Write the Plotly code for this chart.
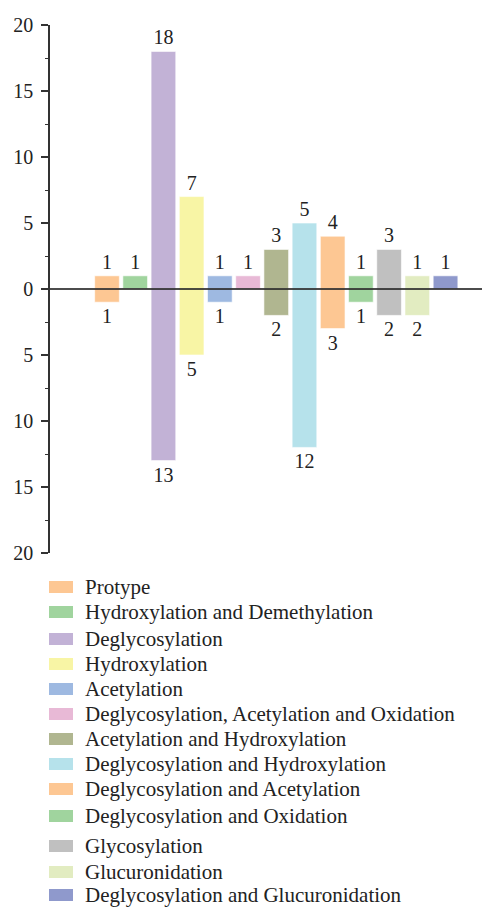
import plotly.graph_objects as go

categories = ["Protype", "Hydroxylation and Demethylation", "Deglycosylation", "Hydroxylation",
              "Acetylation", "Deglycosylation, Acetylation and Oxidation", "Acetylation and Hydroxylation",
              "Deglycosylation and Hydroxylation", "Deglycosylation and Acetylation",
              "Deglycosylation and Oxidation", "Glycosylation", "Glucuronidation",
              "Deglycosylation and Glucuronidation"]
positive = [1, 1, 18, 7, 1, 1, 3, 5, 4, 1, 3, 1, 1]
negative = [1, 0, 13, 5, 1, 0, 2, 12, 3, 1, 2, 2, 0]
colors = ["#FDC793", "#A0D49E", "#C2B2D6", "#F8F5A5", "#9EB9E1", "#E8B9D6", "#B0B690",
          "#B6E2EB", "#FDC793", "#A0D49E", "#C0C0C0", "#E2ECC1", "#8F99CC"]
tick_vals = [-20, -15, -10, -5, 0, 5, 10, 15, 20]
tick_text = ["20", "15", "10", "5", "0", "5", "10", "15", "20"]

FONT = "Liberation Serif"
FS = 20
OFF = 8  # page body margin
W, H = 490 - OFF, 908 - OFF
ML, MR, MT, MB = 50 - OFF, 1, 25 - OFF, 908 - 553
PW, PH = W - ML - MR, H - MT - MB

fig = go.Figure()
xs = list(range(len(categories)))
fig.add_trace(go.Bar(
    x=xs, y=positive, width=0.875,
    marker=dict(color=colors, line=dict(color="rgba(255,255,255,0.6)", width=1)),
    text=[str(v) for v in positive], textposition="outside",
    textfont=dict(family=FONT, size=FS, color="#222"),
    cliponaxis=False, showlegend=False, hoverinfo="skip"))
fig.add_trace(go.Bar(
    x=xs, y=[-v for v in negative], width=0.875,
    marker=dict(color=colors, line=dict(color="rgba(255,255,255,0.6)", width=1)),
    text=[str(v) if v else "" for v in negative], textposition="outside",
    textfont=dict(family=FONT, size=FS, color="#222"),
    cliponaxis=False, showlegend=False, hoverinfo="skip"))

# manual legend (page pixel centres)
legend_y = [587, 612, 639, 664, 689, 714, 739, 764, 789, 816, 846, 872, 895]
shapes = []
annotations = []
for name, col, yc in zip(categories, colors, legend_y):
    yc = yc - OFF
    y0 = 1 - (yc - 6 - MT) / PH
    y1 = 1 - (yc + 6 - MT) / PH
    x0 = (49 - OFF - ML) / PW
    x1 = (73 - OFF - ML) / PW
    shapes.append(dict(type="rect", xref="paper", yref="paper", x0=x0, x1=x1, y0=y0, y1=y1,
                       fillcolor=col, line=dict(width=0)))
    annotations.append(dict(xref="paper", yref="paper", x=(83 - OFF - ML) / PW,
                            y=1 - (yc - MT) / PH, text=name, showarrow=False,
                            xanchor="left", yanchor="middle",
                            font=dict(family=FONT, size=21, color="#222")))

# zero line drawn above the bars
shapes.append(dict(type="line", xref="paper", yref="y", x0=0, x1=1, y0=0, y1=0,
                   layer="above", line=dict(color="#111", width=1.3)))

cx0 = 107 - OFF
fig.update_layout(
    width=W, height=H, margin=dict(l=ML, r=MR, t=MT, b=MB, autoexpand=False),
    paper_bgcolor="white", plot_bgcolor="white",
    barmode="overlay", showlegend=False,
    shapes=shapes, annotations=annotations,
    xaxis=dict(visible=False, automargin=False,
               range=[(ML - cx0) / 28.21, (W - MR - cx0) / 28.21]),
    yaxis=dict(range=[-20, 20], tickvals=tick_vals, ticktext=tick_text, automargin=False,
               ticks="outside", ticklen=7, tickwidth=1.5, tickcolor="#333",
               showline=True, linecolor="#333", linewidth=1.5,
               showgrid=False, zeroline=False,
               ticklabelstandoff=4,
               tickfont=dict(family=FONT, size=FS, color="#222"),
               minor=dict(dtick=2.5, ticks="outside", ticklen=3, tickcolor="#333", tickwidth=1.2)),
)
fig.write_html("out.html")
